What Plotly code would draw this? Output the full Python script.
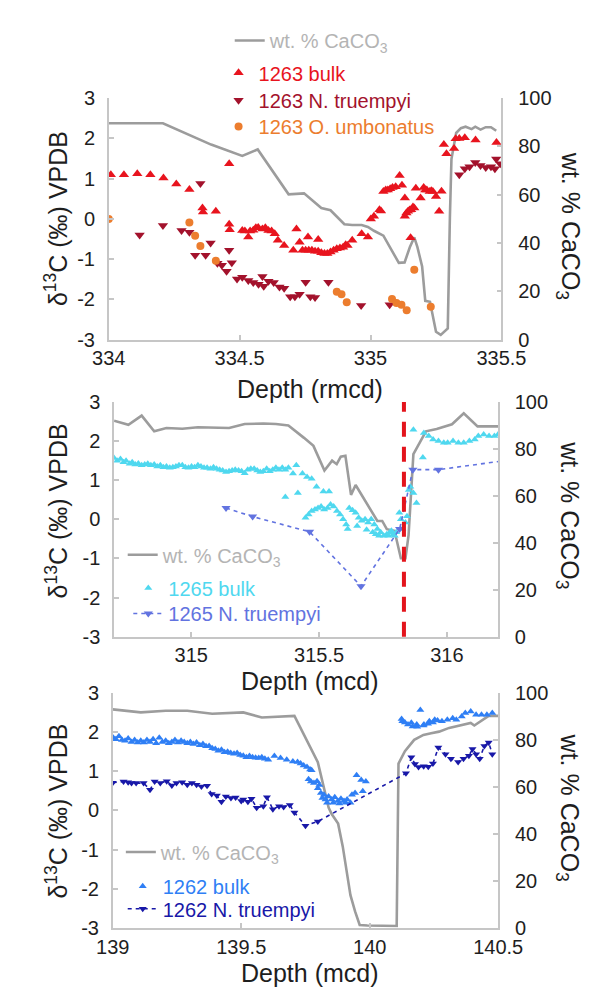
import plotly.graph_objects as go

FONT = "Liberation Sans, Arial, Helvetica, sans-serif"
W, H = 605, 988

# ---------------- DATA ----------------
# Site 1263 (top panel), depth in rmcd
caco3_1263_depth = [334.00, 334.207, 334.391, 334.51, 334.569, 334.687, 334.746, 334.812, 334.847, 334.90,
                    334.93, 334.966, 334.99, 335.013, 335.049, 335.073, 335.108, 335.13, 335.15, 335.167,
                    335.179, 335.197, 335.209, 335.227, 335.25, 335.268, 335.295, 335.303, 335.309, 335.327,
                    335.345, 335.363, 335.386, 335.40, 335.42, 335.44, 335.46, 335.48]
caco3_1263_pct = [89.6, 89.6, 80.8, 76.1, 78.8, 60.2, 60.6, 54.5, 53.6, 47.8,
                  47.5, 47.5, 46.7, 45.1, 43.1, 38.3, 31.8, 32.0, 38.3, 42.4,
                  38.3, 30.3, 16.1, 15.7, 3.3, 2.0, 4.7, 50.5, 74.8, 85.6,
                  87.6, 88.2, 87.2, 88.2, 87.0, 88.0, 88.0, 86.5]

bulk_1263_depth = [334.008, 334.058, 334.109, 334.159, 334.209, 334.258, 334.308, 334.358, 334.360, 334.409,
                   334.460, 334.460, 334.462, 334.51, 334.52, 334.533, 334.540, 334.552, 334.562, 334.571,
                   334.587, 334.598, 334.61, 334.622, 334.634, 334.646, 334.67, 334.705, 334.717, 334.729,
                   334.740, 334.752, 334.761, 334.764, 334.776, 334.788, 334.80, 334.80, 334.812, 334.824,
                   334.835, 334.847, 334.859, 334.871, 334.883, 334.895, 334.905, 334.912, 334.93, 334.966,
                   334.99, 335.001, 335.013, 335.034, 335.040, 335.049, 335.058, 335.066, 335.075, 335.084,
                   335.096, 335.111, 335.12, 335.131, 335.131, 335.137, 335.143, 335.149, 335.155, 335.162,
                   335.167, 335.153, 335.173, 335.191, 335.203, 335.209, 335.215, 335.226, 335.232, 335.238,
                   335.25, 335.262, 335.271, 335.28, 335.29, 335.319, 335.325, 335.339, 335.36, 335.401,
                   335.481]
bulk_1263_d13c = [1.10, 1.10, 1.12, 1.10, 1.02, 0.87, 0.73, 0.27, 0.17, 0.19,
                  1.37, -0.13, -0.27, -0.29, -0.30, -0.45, -0.30, -0.28, -0.22, -0.21,
                  -0.25, -0.22, -0.29, -0.30, -0.37, -0.53, -0.66, -0.78, -0.25, -0.58,
                  -0.78, -0.78, -0.45, -0.78, -0.78, -0.80, -0.51, -0.80, -0.84, -0.86,
                  -0.86, -0.82, -0.78, -0.74, -0.72, -0.70, -0.64, -0.66, -0.53, -0.37,
                  -0.45, 0.00, 0.07, 0.23, 0.20, 0.68, 0.72, 0.72, 0.75, 0.78,
                  0.80, 1.08, 0.84, 0.52, 0.07, 0.15, 0.19, 0.22, 0.23, 0.30,
                  0.27, -0.47, 0.76, 0.52, 0.78, 0.72, 0.72, 0.68, 0.70, 0.68,
                  0.56, 0.19, 0.69, 1.85, 1.62, 1.75, 1.99, 2.00, 2.02, 1.96,
                  1.90]

ntru_1263_depth = [334.118, 334.207, 334.278, 334.308, 334.33, 334.35, 334.37, 334.389, 334.415, 334.432,
                   334.45, 334.46, 334.47, 334.49, 334.51, 334.533, 334.552, 334.572, 334.587, 334.592,
                   334.61, 334.63, 334.652, 334.67, 334.693, 334.711, 334.729, 334.752, 334.77, 334.788,
                   334.839, 334.964, 335.073, 335.339, 335.36, 335.378, 335.40, 335.42, 335.44, 335.46,
                   335.475, 335.48, 335.495]
ntru_1263_d13c = [-0.40, -0.16, -0.29, -0.33, -0.90, 0.88, -0.90, -0.60, -1.10, -1.15,
                  -1.30, -0.78, -1.09, -1.49, -1.45, -1.53, -1.58, -1.62, -1.43, -1.67,
                  -1.55, -1.58, -1.69, -1.72, -1.93, -1.93, -1.87, -1.57, -1.93, -1.95,
                  -1.57, -2.15, -2.13, 1.10, 1.25, 1.30, 1.40, 1.33, 1.28, 1.30,
                  1.25, 1.49, 1.37]

oumb_1263_depth = [334.0, 334.308, 334.33, 334.35, 334.409, 334.871, 334.889, 334.909, 335.082, 335.099,
                   335.118, 335.138, 335.167, 335.23]
oumb_1263_d13c = [0.0, -0.09, -0.42, -0.67, -1.04, -1.81, -1.87, -2.07, -1.99, -2.09,
                  -2.13, -2.27, -1.26, -2.18]

# Site 1265 (middle panel), depth in mcd
caco3_1265_depth = [314.698, 314.754, 314.806, 314.855, 314.903, 314.965, 315.026, 315.148, 315.209, 315.282,
                    315.331, 315.38, 315.441, 315.478, 315.521, 315.551, 315.569, 315.585, 315.603, 315.625,
                    315.643, 315.686, 315.728, 315.747, 315.765, 315.795, 315.82, 315.838, 315.85, 315.869,
                    315.918, 315.96, 316.02, 316.066, 316.12, 316.2]
caco3_1265_pct = [92.0, 90.3, 94.2, 87.5, 88.9, 88.6, 89.2, 88.9, 90.6, 90.8,
                  90.6, 90.0, 84.7, 81.3, 70.8, 75.0, 73.5, 76.7, 77.1, 60.4,
                  64.6, 56.9, 49.3, 49.3, 45.8, 45.1, 33.4, 33.4, 43.1, 77.8,
                  87.5, 88.5, 90.5, 95.2, 89.6, 89.6]

bulk_1265_depth = [314.698, 314.710, 314.723, 314.735, 314.745, 314.759, 314.769, 314.781, 314.793, 314.806,
                   314.818, 314.830, 314.842, 314.855, 314.867, 314.879, 314.891, 314.903, 314.916, 314.928,
                   314.940, 314.952, 314.965, 314.977, 314.989, 315.001, 315.013, 315.026, 315.038, 315.050,
                   315.062, 315.075, 315.087, 315.099, 315.111, 315.123, 315.136, 315.148, 315.160, 315.172,
                   315.185, 315.197, 315.209, 315.221, 315.233, 315.246, 315.258, 315.270, 315.282, 315.295,
                   315.307, 315.319, 315.331, 315.343, 315.356, 315.368, 315.368, 315.380, 315.398, 315.411,
                   315.417, 315.435, 315.453, 315.471, 315.447, 315.459, 315.471, 315.484, 315.490, 315.496,
                   315.508, 315.517, 315.520, 315.533, 315.539, 315.545, 315.557, 315.570, 315.582, 315.594,
                   315.606, 315.612, 315.618, 315.631, 315.643, 315.649, 315.655, 315.667, 315.680, 315.686,
                   315.692, 315.704, 315.710, 315.716, 315.722, 315.728, 315.735, 315.741, 315.753, 315.765,
                   315.771, 315.777, 315.783, 315.790, 315.796, 315.802, 315.814, 315.820, 315.826, 315.838,
                   315.844, 315.851, 315.857, 315.869, 315.881, 315.869, 315.906, 315.910, 315.929, 315.946,
                   315.967, 315.988, 316.003, 316.024, 316.045, 316.066, 316.088, 316.109, 316.123, 316.144,
                   316.165, 316.186, 316.200]
bulk_1265_d13c = [1.57, 1.50, 1.54, 1.46, 1.50, 1.42, 1.46, 1.40, 1.43, 1.38,
                  1.40, 1.42, 1.38, 1.40, 1.35, 1.38, 1.33, 1.35, 1.32, 1.33,
                  1.35, 1.38, 1.38, 1.33, 1.32, 1.35, 1.33, 1.38, 1.35, 1.32,
                  1.32, 1.29, 1.33, 1.29, 1.27, 1.25, 1.21, 1.23, 1.25, 1.27,
                  1.25, 1.23, 1.18, 1.27, 1.29, 1.29, 1.25, 1.21, 1.23, 1.29,
                  1.23, 1.27, 1.32, 1.27, 1.32, 1.27, 0.57, 1.32, 1.17, 1.38,
                  0.67, 1.17, 1.08, 1.04, 0.04, 0.12, 0.21, 0.25, 0.83, 0.29,
                  0.33, 0.71, 0.25, 0.29, 0.71, 0.38, 0.33, 0.21, 0.12, 0.00,
                  -0.13, -0.25, 0.29, 0.23, 0.17, -0.17, 0.04, -0.04, 0.00, -0.27,
                  -0.08, 0.00, -0.33, -0.13, -0.38, -0.25, -0.42, -0.33, -0.42, -0.38,
                  -0.42, -0.33, -0.29, -0.38, -0.42, -0.33, 0.17, 0.00, -0.25, -0.08,
                  0.08, 0.75, 0.83, 0.67, 0.42, 2.29, 1.58, 2.21, 2.13, 2.04,
                  2.00, 1.96, 1.96, 2.00, 1.96, 1.96, 2.00, 2.04, 2.13, 2.17,
                  2.13, 2.13, 2.17]

ntru_1265_depth = [315.136, 315.24, 315.463, 315.664, 315.815, 315.867, 315.967, 316.25]
ntru_1265_d13c = [0.29, 0.07, -0.32, -1.71, -0.25, 1.27, 1.27, 1.52]

event_depth_1265 = 315.832   # red dashed marker line

# Site 1262 (bottom panel), depth in mcd
caco3_1262_depth = [139.0, 139.109, 139.206, 139.29, 139.387, 139.508, 139.58, 139.64, 139.707, 139.798,
                    139.822, 139.84, 139.852, 139.877, 139.895, 139.925, 139.943, 139.961, 139.991, 140.045,
                    140.105, 140.112, 140.137, 140.173, 140.209, 140.239, 140.27, 140.309, 140.358, 140.393,
                    140.407, 140.442, 140.463, 140.5]
caco3_1262_pct = [93.1, 91.8, 92.5, 92.5, 91.2, 91.8, 89.6, 89.8, 90.3, 70.6,
                  59.5, 51.2, 48.5, 44.4, 34.7, 13.9, 7.0, 1.2, 1.0, 0.8,
                  0.8, 70.0, 75.3, 80.1, 82.2, 82.9, 83.6, 85.2, 86.5, 87.3,
                  86.2, 88.7, 90.3, 90.3]

bulk_1262_depth = [139.002, 139.012, 139.024, 139.036, 139.048, 139.060, 139.073, 139.085, 139.097, 139.109,
                   139.121, 139.133, 139.145, 139.157, 139.169, 139.181, 139.193, 139.206, 139.218, 139.230,
                   139.242, 139.254, 139.266, 139.278, 139.290, 139.302, 139.314, 139.326, 139.339, 139.351,
                   139.363, 139.375, 139.387, 139.399, 139.411, 139.423, 139.435, 139.447, 139.459, 139.472,
                   139.484, 139.496, 139.508, 139.520, 139.532, 139.544, 139.556, 139.568, 139.580, 139.592,
                   139.605, 139.629, 139.653, 139.677, 139.701, 139.719, 139.731, 139.743, 139.756, 139.768,
                   139.774, 139.762, 139.771, 139.783, 139.795, 139.804, 139.798, 139.810, 139.816, 139.822,
                   139.828, 139.834, 139.840, 139.852, 139.858, 139.864, 139.876, 139.882, 139.888, 139.900,
                   139.906, 139.912, 139.925, 139.931, 139.943, 139.949, 139.967, 139.973, 139.985, 140.124,
                   140.127, 140.137, 140.149, 140.162, 140.167, 140.183, 140.185, 140.197, 140.209, 140.211,
                   140.227, 140.232, 140.246, 140.253, 140.264, 140.281, 140.302, 140.323, 140.337, 140.358,
                   140.372, 140.393, 140.414, 140.435, 140.456, 140.477]
bulk_1262_d13c = [1.86, 1.82, 1.90, 1.80, 1.78, 1.84, 1.75, 1.80, 1.74, 1.78,
                  1.74, 1.80, 1.75, 1.82, 1.72, 1.86, 1.75, 1.78, 1.72, 1.75,
                  1.80, 1.74, 1.78, 1.75, 1.72, 1.75, 1.70, 1.74, 1.67, 1.70,
                  1.64, 1.65, 1.59, 1.57, 1.53, 1.55, 1.49, 1.50, 1.47, 1.45,
                  1.47, 1.42, 1.40, 1.36, 1.39, 1.36, 1.35, 1.34, 1.36, 1.32,
                  1.30, 1.39, 1.34, 1.30, 1.25, 1.24, 1.20, 1.15, 1.11, 1.05,
                  1.03, 0.80, 0.74, 0.70, 0.75, 0.65, 0.57, 0.45, 0.32, 0.40,
                  0.28, 0.20, 0.36, 0.28, 0.20, 0.34, 0.24, 0.18, 0.30, 0.24,
                  0.20, 0.28, 0.20, 0.40, 0.45, 0.90, 0.78, 0.49, 0.74, 2.34,
                  2.28, 2.25, 2.20, 2.24, 2.15, 2.20, 2.14, 2.57, 2.17, 2.20,
                  2.22, 2.28, 2.25, 2.32, 2.30, 2.28, 2.32, 2.36, 2.32, 2.40,
                  2.49, 2.53, 2.45, 2.45, 2.45, 2.49]

ntru_1262_depth = [139.0, 139.042, 139.06, 139.073, 139.091, 139.12, 139.145, 139.163, 139.185, 139.21,
                   139.23, 139.248, 139.27, 139.29, 139.308, 139.326, 139.345, 139.367, 139.385, 139.405,
                   139.423, 139.44, 139.46, 139.478, 139.50, 139.508, 139.526, 139.54, 139.56, 139.586,
                   139.60, 139.623, 139.647, 139.665, 139.689, 139.707, 139.75, 139.798, 140.141, 140.162,
                   140.176, 140.19, 140.21, 140.228, 140.246, 140.267, 140.295, 140.316, 140.344, 140.365,
                   140.386, 140.40, 140.414, 140.428, 140.446, 140.463, 140.477]
ntru_1262_d13c = [0.71, 0.74, 0.72, 0.70, 0.70, 0.70, 0.53, 0.74, 0.70, 0.75,
                  0.64, 0.70, 0.72, 0.66, 0.70, 0.66, 0.61, 0.63, 0.42, 0.38,
                  0.22, 0.36, 0.32, 0.33, 0.24, 0.28, 0.22, 0.30, 0.07, 0.11,
                  0.34, 0.03, 0.11, 0.09, 0.14, -0.05, -0.39, -0.28, 0.95, 1.36,
                  1.19, 1.11, 1.13, 1.12, 1.20, 1.61, 1.44, 1.32, 1.24, 1.32,
                  1.40, 1.57, 1.44, 1.32, 1.65, 1.74, 1.44]

# Axis ticks
d13c_ticks = [-3, -2, -1, 0, 1, 2, 3]
d13c_ticktext = ["-3", "-2", "-1", "0", "1", "2", "3"]
pct_ticks = [0, 20, 40, 60, 80, 100]
x1_ticks = [334, 334.5, 335, 335.5]
x1_ticktext = ["334", "334.5", "335", "335.5"]
x2_ticks = [315, 315.5, 316]
x2_ticktext = ["315", "315.5", "316"]
x3_ticks = [139, 139.5, 140, 140.5]
x3_ticktext = ["139", "139.5", "140", "140.5"]

# ---------------- STYLE ----------------
GRAY_LINE = "#9c9c9c"
GRAY_TEXT = "#b4b4b4"
AXIS_COL = "#c6c6c6"
C_BULK63 = "#e8141e"
C_NT63 = "#a3122c"
C_OU63 = "#ec7d2e"
C_BULK65 = "#4fd8ef"
C_NT65 = "#6273e0"
C_BULK62 = "#2f7ff5"
C_NT62 = "#1818a8"
CACO3_NAME = "wt. % CaCO<sub>3</sub>"

# panel boxes in pixels: left, right, top, bottom
P1 = (90, 512, 81, 328)
P2 = (95.7, 508.3, 391.7, 631.7)
P3 = (94.3, 508.5, 689.5, 929.5)


def xdom(p):
    return [p[0] / W, p[1] / W]


def ydom(p):
    return [1 - p[3] / H, 1 - p[2] / H]


fig = go.Figure()


def caco3_trace(x, y, xa, ya, leg):
    return go.Scatter(x=x, y=y, xaxis=xa, yaxis=ya, mode="lines", name=CACO3_NAME,
                      line=dict(color=GRAY_LINE, width=2.6), legend=leg, hoverinfo="skip")


# Panel 1
fig.add_trace(caco3_trace(caco3_1263_depth, caco3_1263_pct, "x", "y", "legend"))
fig.add_trace(go.Scatter(x=bulk_1263_depth, y=bulk_1263_d13c, xaxis="x", yaxis="y2", mode="markers",
                         name="1263 bulk", legend="legend2",
                         marker=dict(symbol="triangle-up", size=9, color=C_BULK63)))
fig.add_trace(go.Scatter(x=ntru_1263_depth, y=ntru_1263_d13c, xaxis="x", yaxis="y2", mode="markers",
                         name="1263 N. truempyi", legend="legend3",
                         marker=dict(symbol="triangle-down", size=9, color=C_NT63)))
fig.add_trace(go.Scatter(x=oumb_1263_depth, y=oumb_1263_d13c, xaxis="x", yaxis="y2", mode="markers",
                         name="1263 O. umbonatus", legend="legend4",
                         marker=dict(symbol="circle", size=8, color=C_OU63)))

# Panel 2
fig.add_trace(caco3_trace(caco3_1265_depth, caco3_1265_pct, "x2", "y3", "legend5"))
fig.add_trace(go.Scatter(x=bulk_1265_depth, y=bulk_1265_d13c, xaxis="x2", yaxis="y4", mode="markers",
                         name="1265 bulk", legend="legend6",
                         marker=dict(symbol="triangle-up", size=7, color=C_BULK65)))
fig.add_trace(go.Scatter(x=ntru_1265_depth, y=ntru_1265_d13c, xaxis="x2", yaxis="y4", mode="lines+markers",
                         name="1265 N. truempyi", legend="legend7",
                         line=dict(color=C_NT65, width=1.6, dash="4px,4px"),
                         marker=dict(symbol="triangle-down", size=8, color=C_NT65)))

# Panel 3
fig.add_trace(caco3_trace(caco3_1262_depth, caco3_1262_pct, "x3", "y5", "legend8"))
fig.add_trace(go.Scatter(x=bulk_1262_depth, y=bulk_1262_d13c, xaxis="x3", yaxis="y6", mode="markers",
                         name="1262 bulk", legend="legend9",
                         marker=dict(symbol="triangle-up", size=7, color=C_BULK62)))
fig.add_trace(go.Scatter(x=ntru_1262_depth, y=ntru_1262_d13c, xaxis="x3", yaxis="y6", mode="lines+markers",
                         name="1262 N. truempyi", legend="legend10",
                         line=dict(color=C_NT62, width=1.6, dash="4px,4px"),
                         marker=dict(symbol="triangle-down", size=7, color=C_NT62)))

tickfont = dict(family=FONT, size=20, color="#1e1e1e")
axis_common = dict(showgrid=False, zeroline=False, showline=True, linecolor=AXIS_COL, linewidth=1.5,
                   ticks="inside", ticklen=5, tickcolor=AXIS_COL, tickwidth=1.5, tickfont=tickfont)


def xaxis(p, rng, tv, tt, anchor):
    return dict(domain=xdom(p), range=rng, tickvals=tv, ticktext=tt, anchor=anchor,
                ticklabelstandoff=0, **axis_common)


def yright(p, anchor):
    return dict(domain=ydom(p), range=[0, 100], tickvals=pct_ticks, side="right", anchor=anchor,
                ticklabelstandoff=11, **axis_common)


def yleft(over, anchor):
    return dict(range=[-3, 3], tickvals=d13c_ticks, ticktext=d13c_ticktext, side="left",
                overlaying=over, anchor=anchor, ticklabelstandoff=8, **axis_common)


def leg(xpx, ypx, color):
    return dict(x=xpx / W, y=1 - ypx / H, xanchor="left", yanchor="middle", bgcolor="rgba(0,0,0,0)",
                borderwidth=0, font=dict(family=FONT, size=20, color=color))


fig.update_layout(
    width=W, height=H, margin=dict(l=0, r=0, t=0, b=0),
    paper_bgcolor="white", plot_bgcolor="rgba(0,0,0,0)",
    font=dict(family=FONT, size=20, color="#1e1e1e"),
    xaxis=xaxis(P1, [334, 335.5], x1_ticks, x1_ticktext, "y"),
    yaxis=yright(P1, "x"),
    yaxis2=yleft("y", "x"),
    xaxis2=xaxis(P2, [314.698, 316.2], x2_ticks, x2_ticktext, "y3"),
    yaxis3=yright(P2, "x2"),
    yaxis4=yleft("y3", "x2"),
    xaxis3=xaxis(P3, [139, 140.5], x3_ticks, x3_ticktext, "y5"),
    yaxis5=yright(P3, "x3"),
    yaxis6=yleft("y5", "x3"),
    legend=leg(220, 22, GRAY_TEXT),
    legend2=leg(208, 55, C_BULK63),
    legend3=leg(208, 83, C_NT63),
    legend4=leg(208, 110, C_OU63),
    legend5=leg(105, 548, GRAY_TEXT),
    legend6=leg(111, 582, C_BULK65),
    legend7=leg(111, 608, C_NT65),
    legend8=leg(103, 852, GRAY_TEXT),
    legend9=leg(105, 887, C_BULK62),
    legend10=leg(105, 910, C_NT62),
    showlegend=True,
)

fig.add_shape(type="line", xref="x2", yref="y3 domain", x0=event_depth_1265, x1=event_depth_1265,
              y0=0, y1=1, line=dict(color="#e3141c", width=4, dash="15px,10px"))

ann_font = dict(family=FONT, size=25, color="#1e1e1e")
ytitle = "δ<sup>13</sup>C (‰) VPDB"
rtitle = "wt. % CaCO<sub>3</sub>"
annotations = []
for (yc, rc, xt_y, xt_text) in [(204, 212, 378, "Depth (rmcd)"), (503, 508, 677, "Depth (mcd)"),
                                (810, 807, 976, "Depth (mcd)")]:
    annotations.append(dict(text=ytitle, x=34 / W, y=1 - yc / H, xref="paper", yref="paper",
                            textangle=-90, showarrow=False, font=ann_font, xanchor="center", yanchor="middle"))
    annotations.append(dict(text=rtitle, x=584 / W, y=1 - rc / H, xref="paper", yref="paper",
                            textangle=90, showarrow=False, font=ann_font, xanchor="center", yanchor="middle"))
    annotations.append(dict(text=xt_text, x=306 / W, y=1 - xt_y / H, xref="paper", yref="paper",
                            showarrow=False, font=ann_font, xanchor="center", yanchor="middle"))
fig.update_layout(annotations=annotations)

fig.write_html("out.html")
